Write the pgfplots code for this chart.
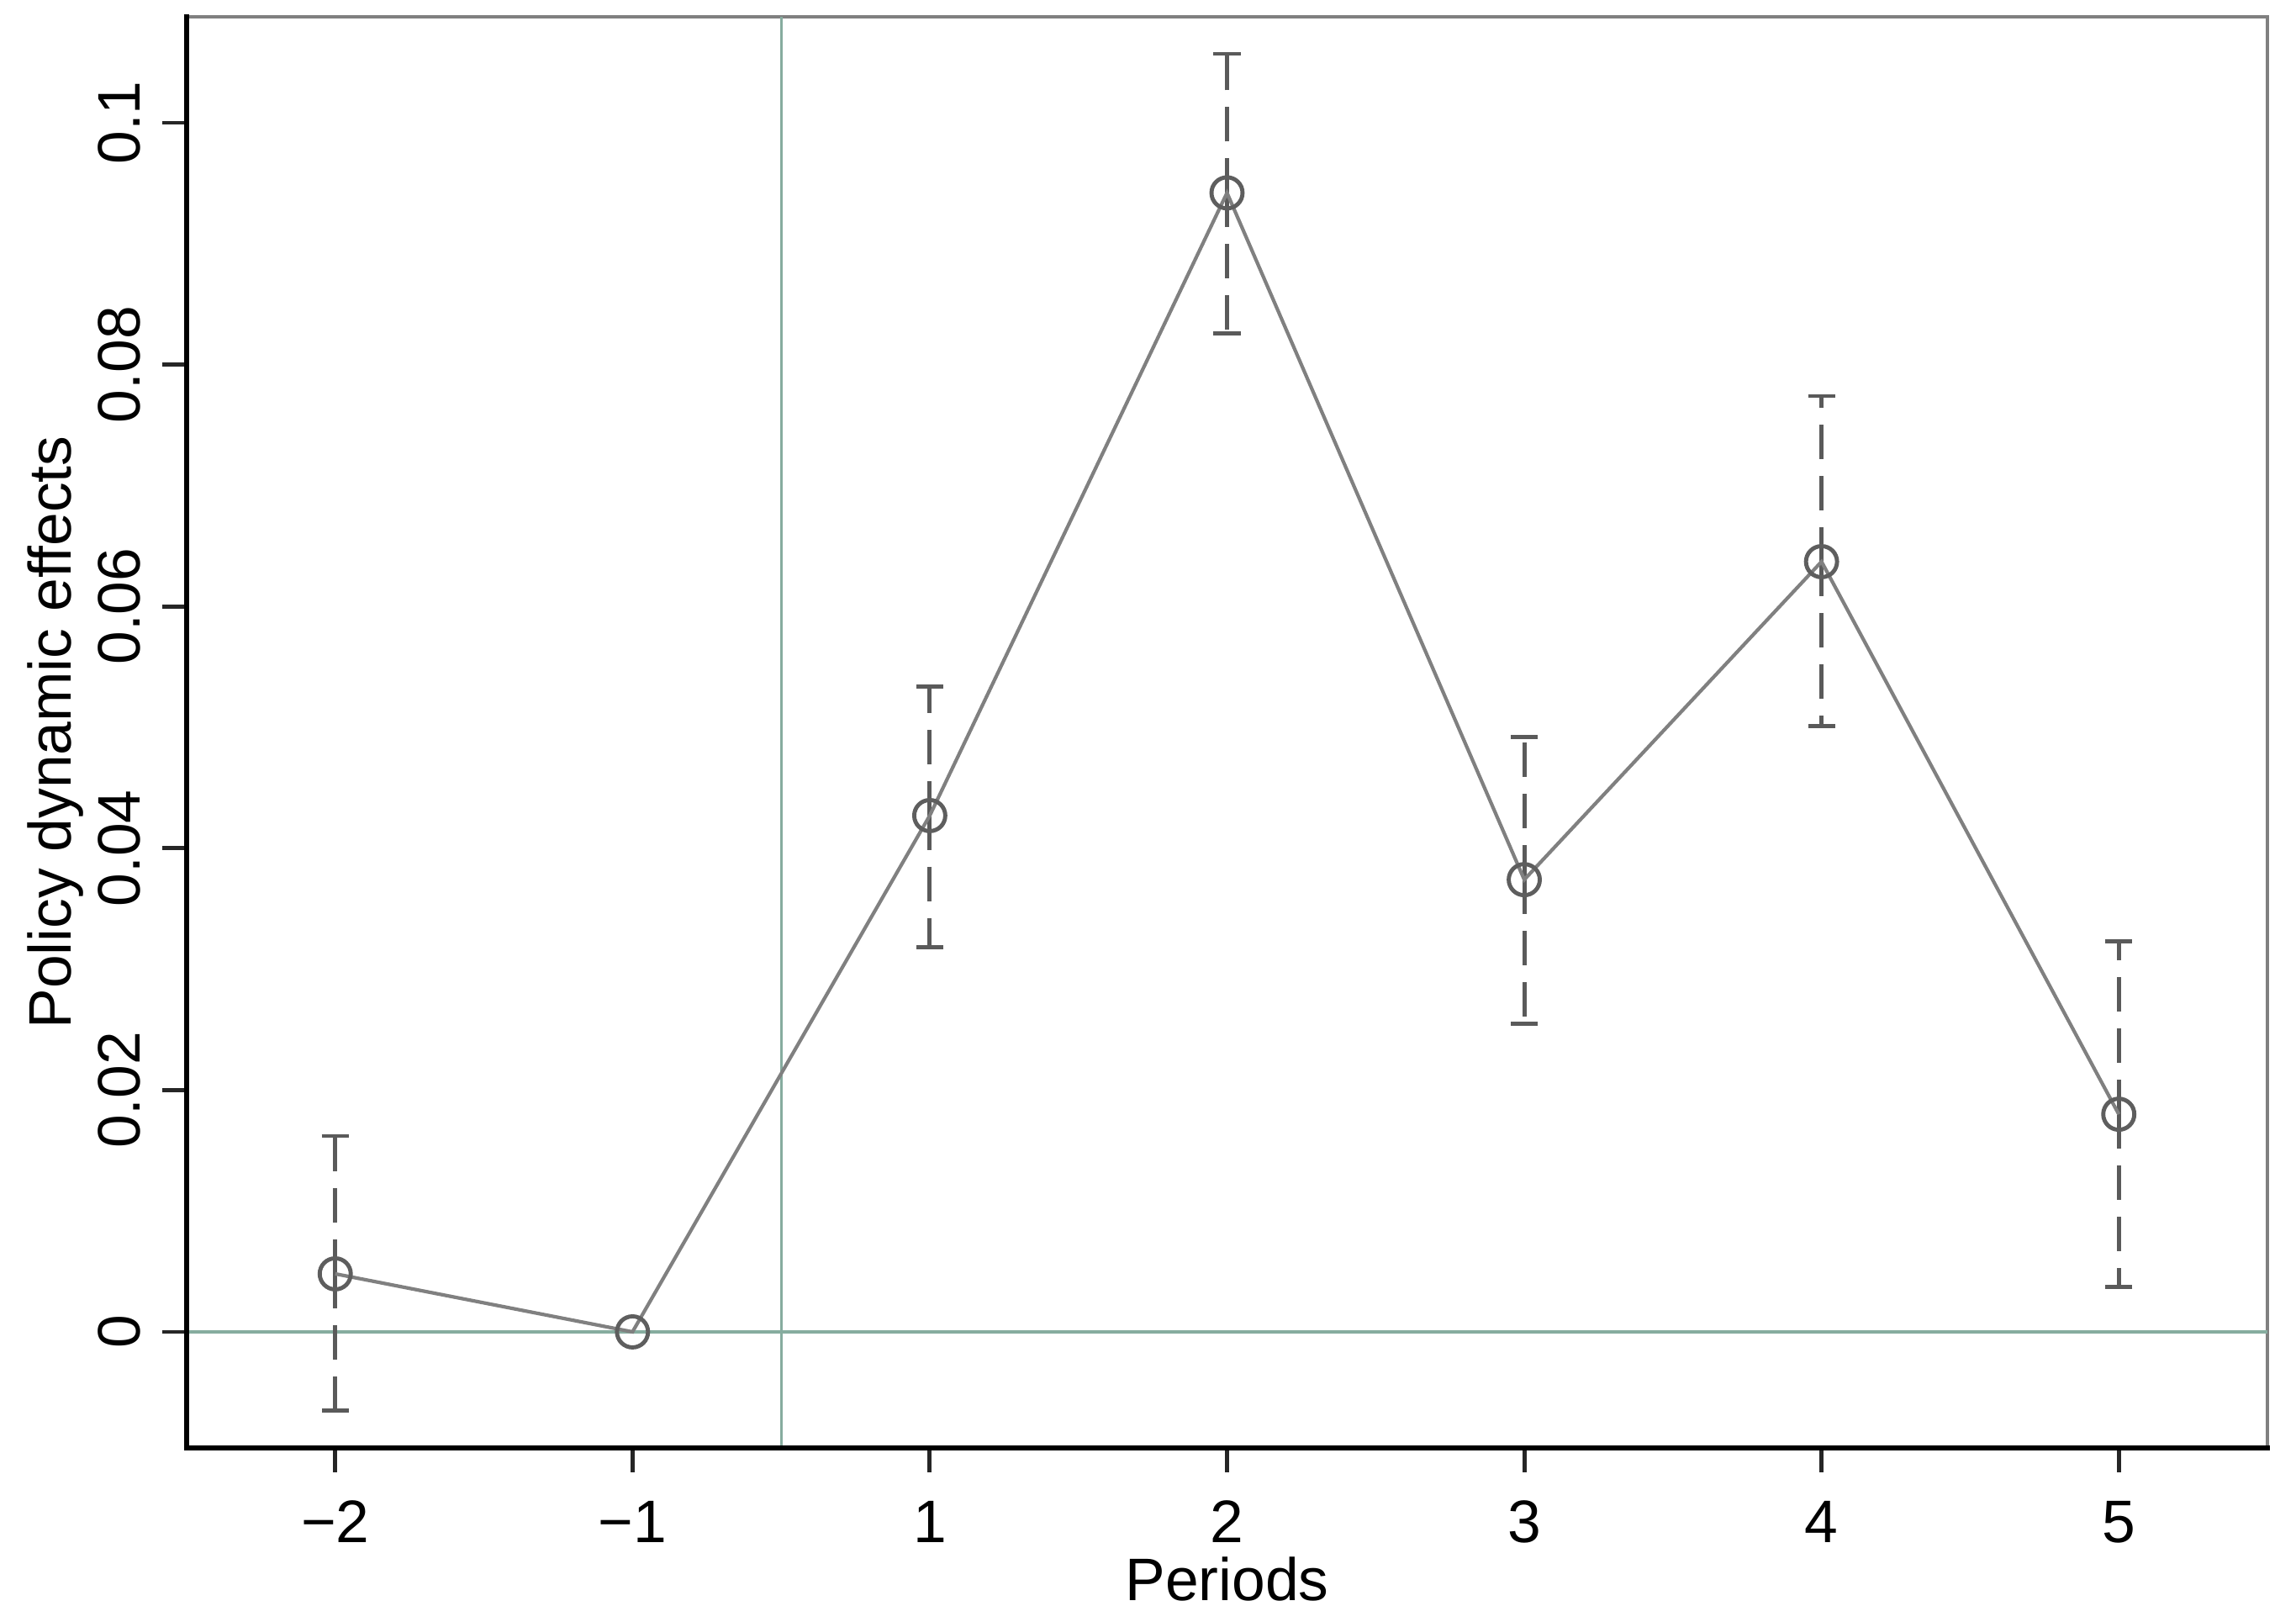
\documentclass[border=0pt]{standalone}
\usepackage{pgfplots}
\pgfplotsset{compat=1.18}
\usepackage{fontspec}
\setmainfont{Liberation Sans}
\definecolor{linegray}{HTML}{808080}
\definecolor{markgray}{HTML}{5E5E5E}
\definecolor{errgray}{HTML}{5A5A5A}
\definecolor{refgreen}{HTML}{86AC9F}
\definecolor{framegray}{HTML}{808080}
\begin{document}
\begin{tikzpicture}[font=\fontsize{10.2pt}{12pt}\selectfont]
\begin{axis}[
  at={(0pt,0pt)}, anchor=south west,
  scale only axis,
  width=353.57pt, height=243.14pt,
  xmin=0.5, xmax=7.5,
  ymin=-0.0096, ymax=0.10876,
  xtick={1,2,3,4,5,6,7},
  xticklabels={−2,−1,1,2,3,4,5},
  ytick={0,0.02,0.04,0.06,0.08,0.1},
  yticklabels={0,0.02,0.04,0.06,0.08,0.1},
  tick pos=left,
  tick align=outside,
  major tick length=4.1pt,
  tick style={color=black!85, line width=0.7pt},
  axis line style={draw=framegray, line width=0.7pt},
  xticklabel style={anchor=base, inner sep=0pt},
  yticklabel style={rotate=90, anchor=base, inner sep=0pt},
  xticklabel shift=12.0pt,
  yticklabel shift=3.8pt,
  xlabel={Periods},
  ylabel={Policy dynamic effects},
  xlabel style={at={(axis description cs:0.5,0)}, anchor=base, inner sep=0pt, yshift=-25.9pt},
  ylabel style={at={([xshift=-19.6pt]axis description cs:0,0.5)}, anchor=base, inner sep=0pt},
  clip=false,
  after end axis/.code={
    \draw[black, line width=0.9pt, line cap=rect] (rel axis cs:0,1) -- (rel axis cs:0,0) -- (rel axis cs:1,0);
  },
]
% reference lines
\addplot[refgreen, line width=0.45pt, forget plot] coordinates {(0.5,0) (7.5,0)};
\addplot[refgreen, line width=0.45pt, forget plot] coordinates {(2.5,-0.0096) (2.5,0.10876)};
% confidence intervals
\addplot[draw=none, no markers, forget plot,
  error bars/.cd, y dir=both, y explicit,
  error bar style={draw=errgray, line width=0.7pt, dash pattern=on 5.86pt off 2.86pt},
  error mark options={solid, draw=errgray, line width=0.7pt, mark size=2.3pt, rotate=90}]
  table[x=x, y=y, y error plus=ep, y error minus=em] {
x y ep em
1 0.0048 0.0114 0.0113
3 0.0427 0.0107 0.0109
4 0.0942 0.0115 0.0116
5 0.0374 0.0118 0.0119
6 0.0637 0.0137 0.0136
7 0.0180 0.0143 0.0143
};
% point estimates
\addplot[linegray, line width=0.6pt, mark=o, mark size=2.64pt,
  mark options={draw=markgray, line width=0.7pt, fill=none}]
  table[x=x, y=y] {
x y
1 0.0048
2 0.0
3 0.0427
4 0.0942
5 0.0374
6 0.0637
7 0.0180
};
\end{axis}
\pgfresetboundingbox
\path[use as bounding box] (-31.71pt,-29.43pt) rectangle (358.43pt,246pt);
\end{tikzpicture}
\end{document}
